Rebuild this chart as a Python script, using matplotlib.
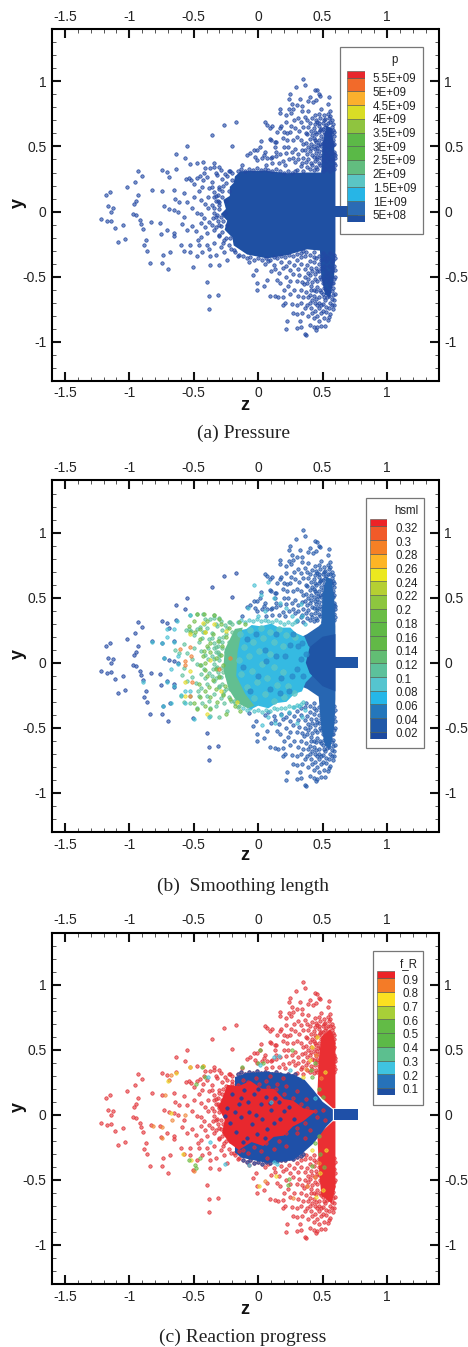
#!/usr/bin/env python3

import matplotlib
matplotlib.use('Agg')
import matplotlib.pyplot as plt
import numpy as np
from matplotlib.patches import Rectangle
from matplotlib.ticker import MultipleLocator, FixedLocator

plt.rcParams['font.family'] = ['Liberation Sans', 'DejaVu Sans']

W, H = 468, 1347

# colour legend contents
p_labels = ['5.5E+09', '5E+09', '4.5E+09', '4E+09', '3.5E+09', '3E+09',
            '2.5E+09', '2E+09', '1.5E+09', '1E+09', '5E+08']
p_colors = ['#e8262c', '#f26a2a', '#fbb02d', '#d9dd25', '#8fc43f', '#5cb947',
            '#5ab947', '#62bd7f', '#5bc5c4', '#27b5e6', '#2b6bb5', '#1f4fa3']
h_labels = ['0.32', '0.3', '0.28', '0.26', '0.24', '0.22', '0.2', '0.18',
            '0.16', '0.14', '0.12', '0.1', '0.08', '0.06', '0.04', '0.02']
h_colors = ['#ec2327', '#f15a29', '#f58025', '#fdb525', '#ece81f', '#b5cf32',
            '#8dc63f', '#6abd45', '#60b946', '#62b947', '#62bd74', '#5cc19b',
            '#55c5cf', '#25b7e8', '#2477bb', '#2059a8', '#1c4aa0']
f_labels = ['0.9', '0.8', '0.7', '0.6', '0.5', '0.4', '0.3', '0.2', '0.1']
f_colors = ['#ec2327', '#f47b27', '#fbe021', '#a8cf38', '#62bb46', '#5cb947',
            '#5cbf8f', '#3fc3e0', '#2672b9', '#1e4fa2']

# particles: (z, y)
far_left = np.array([
    (-1.22, -.06), (-1.18, .13), (-1.15, .15), (-1.165, .04), (-1.127, .03),
    (-1.14, -.005), (-1.17, -.075), (-1.14, -.07), (-1.11, -.125), (-1.05, -.105),
    (-1.085, -.23), (-1.035, -.21), (-1.02, .185), (-.955, .23), (-.935, .31),
    (-.90, .275), (-.935, .125), (-.95, .08), (-.96, .06), (-.975, -.02),
    (-.945, -.025), (-.92, -.065), (-.91, -.095), (-.89, -.135), (-.87, -.22),
    (-.885, -.26), (-.865, -.305), (-.84, -.395), (-.835, -.08), (-.825, .165),
    (-.75, .155), (-.75, .32), (-.73, .04), (-.765, -.085), (-.755, -.17),
    (-.74, -.33), (-.745, -.395), (-.70, -.445), (-.685, -.31), (-.71, -.14),
    (-.655, -.165), (-.655, -.19), (-.69, .02), (-.655, .015), (-.62, 0),
    (-.705, .305), (-.635, .325), (-.695, .265), (-.655, .165), (-.635, .445),
    (-.55, .5), (-.57, .41), (-.36, .585), (-.265, .665), (-.17, .69),
    (-.205, .505), (-.40, -.54), (-.38, -.65), (-.31, -.64), (-.38, -.75),
    (-.505, -.425)])

mid_left = np.array([
    (-.558, .25), (-.53, .365), (-.473, .376), (-.43, .378), (-.344, .37),
    (-.344, .345), (-.37, .337), (-.305, .345), (-.29, .32), (-.416, .333),
    (-.452, .274), (-.52, .243), (-.537, .256), (-.473, .256), (-.395, .268),
    (-.318, .281), (-.357, .23), (-.434, .192), (-.5, .212), (-.576, .146),
    (-.649, .095), (-.615, .077), (-.55, .077), (-.5, .115), (-.447, .09),
    (-.39, .115), (-.344, .153), (-.305, .192), (-.416, .059), (-.357, .051),
    (-.512, .026), (-.473, -.013), (-.421, -.051), (-.382, -.077), (-.344, -.013),
    (-.447, -.09), (-.512, -.11), (-.576, -.038), (-.589, -.095), (-.55, -.14),
    (-.486, -.153), (-.447, -.197), (-.395, -.166), (-.344, -.14), (-.305, -.179),
    (-.266, -.217), (-.344, -.243), (-.4, -.256), (-.46, -.256), (-.525, -.256),
    (-.602, -.256), (-.576, -.3), (-.525, -.307), (-.473, -.345), (-.434, -.307),
    (-.375, -.345), (-.375, -.41), (-.305, -.414), (-.24, -.37), (-.189, -.294),
    (-.266, -.307), (-.15, -.332), (-.31, .13), (-.33, .08), (-.3, .02),
    (-.31, -.07), (-.36, .19), (-.28, .25), (-.26, .29), (-.23, .31),
    (-.42, .30), (-.46, .16), (-.39, .03), (-.44, -.02), (-.36, -.10), (-.41, -.12),
    (-.47, -.22), (-.38, -.29), (-.33, -.33), (-.29, -.27), (-.43, .24), (-.385, .18),
    (-.345, .11), (-.30, .07), (-.325, -.04), (-.285, -.11), (-.28, .16), (-.33, .30)])

wing_top = np.array([
    (.349, 1.02), (.36, .97), (.297, .953), (.442, .934), (.46, .93), (.476, .90),
    (.48, .89), (.25, .90), (.403, .88), (.237, .865), (.324, .868), (.385, .85),
    (.424, .845), (.453, .86), (.553, .877), (.54, .83), (.264, .83), (.305, .816),
    (.34, .81), (.17, .79), (.168, .76), (.238, .785), (.27, .79), (.254, .755),
    (.217, .74), (.337, .775), (.39, .77), (.49, .785), (.56, .775), (.057, .685),
    (.072, .667), (.11, .657), (.095, .64), (.147, .614), (.18, .657), (.22, .69),
    (.255, .657), (.225, .607), (.197, .61), (.023, .543), (.095, .56), (.142, .537),
    (.194, .564), (.225, .55), (.013, .494), (-.03, .473), (-.066, .447), (-.085, .432),
    (.05, .46), (.13, .494), (.135, .46), (.2, .494), (.23, .494), (-.023, .417),
    (-.01, .397), (.03, .41), (.07, .41), (.106, .417), (.14, .43), (-.127, .357),
    (-.008, .473), (.044, .435), (.096, .41), (.1, .55), (.134, .537), (.173, .64),
    (.25, .614), (.28, .70), (.31, .72), (.33, .69), (.36, .73), (.38, .70),
    (.29, .64), (.32, .62), (.35, .65), (.37, .60), (.27, .55), (.30, .57),
    (.33, .55), (.35, .52), (.26, .46), (.29, .48), (.31, .44), (.34, .47),
    (.24, .40), (.27, .41), (.29, .38), (.31, .40), (.34, .37), (.16, .37),
    (.19, .39), (.21, .36), (.06, .36), (.11, .37), (.22, .45), (.17, .44)])

wing_top_dense = np.array([
    (.44, .745), (.47, .752), (.51, .738), (.54, .748), (.56, .735), (.42, .715), (.45, .702),
    (.48, .722), (.52, .708), (.55, .718), (.57, .70), (.40, .682), (.44, .672), (.46, .69),
    (.50, .678), (.53, .665), (.56, .685), (.58, .672), (.39, .648), (.43, .64), (.47, .655),
    (.49, .635), (.52, .648), (.55, .638), (.57, .652), (.41, .622), (.44, .612), (.48, .625),
    (.51, .608), (.54, .62), (.56, .605), (.58, .628), (.38, .592), (.42, .585), (.45, .598),
    (.49, .58), (.52, .592), (.55, .578), (.57, .595), (.59, .582), (.40, .558), (.43, .565),
    (.47, .548), (.50, .56), (.53, .552), (.56, .565), (.58, .55), (.37, .53), (.41, .522),
    (.45, .535), (.48, .518), (.51, .53), (.54, .52), (.57, .535), (.59, .522), (.39, .498),
    (.43, .505), (.46, .49), (.49, .502), (.52, .488), (.55, .498), (.58, .508), (.36, .472),
    (.40, .462), (.44, .478), (.47, .465), (.50, .475), (.53, .46), (.56, .472), (.59, .46),
    (.38, .442), (.42, .432), (.45, .448), (.48, .435), (.52, .445), (.55, .432), (.57, .448),
    (.60, .438), (.35, .412), (.39, .402), (.43, .418), (.46, .405), (.49, .415), (.51, .40),
    (.54, .412), (.58, .402), (.60, .415), (.37, .382), (.41, .372), (.44, .385), (.47, .375),
    (.50, .388), (.53, .372), (.56, .385), (.59, .375), (.33, .35), (.38, .342), (.42, .355),
    (.45, .345), (.48, .358), (.51, .342), (.55, .352), (.57, .34), (.60, .355), (.30, .322),
    (.35, .315), (.40, .328), (.43, .318), (.46, .33), (.50, .315), (.53, .325), (.56, .312),
    (.59, .328), (.47, .612), (.53, .585), (.50, .525), (.44, .55), (.56, .54), (.46, .42),
    (.53, .435), (.41, .485), (.57, .405), (.51, .70), (.475, .68), (.545, .68), (.59, .61),
    (.585, .44), (.505, .635), (.565, .62), (.575, .51), (.525, .515), (.465, .515)])

wing_bot = np.array([
    (.37, -.95), (.36, -.94), (.22, -.90), (.30, -.895), (.33, -.885), (.225, -.84),
    (.325, -.84), (.45, -.91), (.46, -.89), (.40, -.87), (.43, -.885), (.49, -.88),
    (.52, -.88), (.54, -.83), (.27, -.78), (.30, -.785), (.34, -.78), (.39, -.80),
    (.42, -.78), (.46, -.80), (.49, -.78), (.53, -.77), (.56, -.79), (.19, -.72),
    (.21, -.70), (.26, -.71), (.30, -.72), (.33, -.70), (.36, -.74), (.155, -.66),
    (.19, -.655), (.09, -.647), (.134, -.652), (.044, -.575), (-.008, -.6), (.07, -.524),
    (.147, -.524), (.17, -.55), (.20, -.60), (.23, -.57), (.25, -.63), (.28, -.60),
    (.31, -.65), (.33, -.60), (.35, -.66), (.22, -.50), (.25, -.53), (.27, -.48),
    (.30, -.53), (.32, -.49), (.34, -.54), (.10, -.46), (.13, -.44), (.16, -.47),
    (.19, -.43), (.22, -.42), (.25, -.45), (.28, -.41), (.31, -.44), (.05, -.40),
    (.08, -.38), (-.02, -.448), (-.041, -.486), (-.008, -.55), (-.072, -.389),
    (.12, -.41), (.18, -.39), (.24, -.385), (.30, -.37), (.33, -.35)])

wing_bot_dense = np.array([
    (.38, -.72), (.41, -.74), (.44, -.70), (.47, -.74), (.50, -.71), (.53, -.73), (.56, -.70),
    (.59, -.72), (.37, -.62), (.39, -.66), (.41, -.60), (.43, -.65), (.45, -.61), (.47, -.66),
    (.49, -.62), (.51, -.66), (.53, -.60), (.55, -.65), (.57, -.61), (.60, -.63), (.36, -.50),
    (.38, -.55), (.40, -.49), (.42, -.54), (.44, -.48), (.46, -.53), (.48, -.50), (.50, -.55),
    (.52, -.49), (.54, -.54), (.56, -.50), (.58, -.55), (.60, -.50), (.33, -.40), (.36, -.44),
    (.38, -.41), (.41, -.43), (.43, -.39), (.45, -.43), (.47, -.40), (.51, -.42), (.53, -.38),
    (.55, -.42), (.57, -.39), (.59, -.42), (.60, -.36), (.40, -.33), (.43, -.31), (.47, -.34),
    (.36, -.34), (.50, -.32), (.53, -.34), (.56, -.315), (.59, -.33), (.37, -.31), (.45, -.36),
    (.49, -.37), (.55, -.36), (.58, -.375), (.40, -.38), (.42, -.46), (.47, -.46), (.52, -.45),
    (.57, -.46), (.60, -.45), (.39, -.52), (.44, -.52), (.49, -.52), (.54, -.51), (.59, -.52),
    (.41, -.57), (.46, -.58), (.51, -.59), (.56, -.575), (.58, -.59), (.43, -.60), (.48, -.60),
    (.40, -.64), (.45, -.67), (.50, -.63), (.54, -.62), (.58, -.64), (.42, -.68), (.47, -.70),
    (.52, -.68), (.57, -.67), (.59, -.68), (.40, -.70), (.44, -.76), (.50, -.76), (.55, -.74),
    (.58, -.75), (.43, -.82), (.47, -.84), (.51, -.82), (.55, -.81), (.57, -.72), (.49, -.72),
    (.46, -.72), (.535, -.655), (.575, -.55), (.515, -.515), (.455, -.455), (.485, -.43),
    (.545, -.47), (.575, -.43), (.515, -.36), (.435, -.35), (.385, -.47), (.355, -.56)])

# edge of the dense centre: left side, then top and bottom
core_left = np.array([
    (-.30, .05), (-.33, .12), (-.28, .11), (-.27, .20), (-.30, .17), (-.24, .27), (-.22, .31),
    (-.20, .30), (-.25, .22), (-.345, .03), (-.32, -.03), (-.35, -.05), (-.30, -.10),
    (-.33, -.12), (-.28, -.16), (-.30, -.19), (-.25, -.20), (-.27, -.24), (-.23, -.26),
    (-.21, -.29), (-.18, -.31), (-.16, -.34), (-.26, -.01), (-.29, -.04), (-.25, .08),
    (-.23, .16), (-.22, -.20), (-.24, -.10), (-.31, .08), (-.27, -.07), (-.20, .24)])
core_edge = np.array([
    (-.16, .31), (-.13, .325), (-.10, .315), (-.07, .33), (-.04, .32), (-.01, .335), (.02, .32),
    (.05, .33), (.08, .32), (.11, .315), (.14, .325), (.17, .31), (.20, .30), (.23, .315),
    (.26, .30), (.29, .31), (-.12, -.345), (-.09, -.36), (-.06, -.35), (-.03, -.37), (0, -.36),
    (.03, -.375), (.06, -.36), (.09, -.37), (.12, -.35), (.15, -.355), (.18, -.345),
    (.21, -.35), (.24, -.335), (.27, -.34), (.30, -.325), (.33, -.315), (.35, -.30)])

# outlines of the regions too dense to read one by one: (z, y)
core_outline = np.array([
    (-.29, -.02), (-.25, .02), (-.27, .09), (-.22, .12), (-.22, .19), (-.19, .22), (-.18, .27),
    (-.137, .31), (.044, .315), (.225, .295), (.38, .30), (.49, .30), (.50, .52), (.53, .66),
    (.57, .64), (.59, .50), (.60, .30), (.60, -.30), (.59, -.50), (.56, -.66), (.52, -.64),
    (.49, -.50), (.48, -.30), (.38, -.29), (.225, -.335), (.07, -.36), (-.085, -.33),
    (-.19, -.26), (-.20, -.20), (-.26, -.14), (-.24, -.07)])
jet_outline = np.array([(.59, -.043), (.775, -.043), (.775, .043), (.59, .043)])

# smoothing length regions
h_dark = np.array([
    (.28, .17), (.38, .22), (.47, .28), (.49, .30), (.50, .52), (.53, .66), (.57, .64), (.59, .50),
    (.60, .28), (.60, -.28), (.59, -.50), (.56, -.66), (.52, -.64), (.49, -.50), (.47, -.26),
    (.38, -.20), (.28, -.16), (.22, -.08), (.22, .08)])
h_darkest = np.array([
    (.40, .12), (.50, .20), (.60, .22), (.60, -.22), (.50, -.18), (.40, -.08), (.37, 0)])
h_cyan = np.array([
    (-.20, .17), (-.15, .20), (-.14, .25), (-.09, .26), (-.05, .29), (.02, .28), (.10, .30),
    (.16, .27), (.25, .27), (.29, .23), (.36, .20), (.39, .13), (.42, .10), (.40, .04), (.44, 0),
    (.40, -.05), (.42, -.10), (.37, -.15), (.34, -.22), (.28, -.24), (.22, -.30), (.14, -.31),
    (.08, -.35), (.00, -.33), (-.06, -.36), (-.12, -.30), (-.17, -.28), (-.19, -.20), (-.22, -.14),
    (-.20, -.06), (-.24, 0), (-.21, .09)])
h_green = np.array([
    (-.26, .10), (-.18, .26), (-.12, .27), (-.14, .18), (-.16, .08), (-.17, -.10),
    (-.10, -.24), (-.03, -.33), (-.08, -.35), (-.16, -.31), (-.23, -.20), (-.27, -.05)])

h_green_pts = np.array([
    (-.476, .373), (-.424, .373), (-.34, .365), (-.3, .335), (-.5, .317), (-.4, .32),
    (-.54, .284), (-.45, .26), (-.527, .233), (-.49, .24), (-.41, .233), (-.285, .295),
    (-.35, .22), (-.45, .18), (-.40, .13), (-.424, .09), (-.37, .08), (-.43, .055),
    (-.33, .04), (-.41, 0), (-.45, -.02), (-.41, -.055), (-.33, -.05), (-.40, -.10),
    (-.30, -.11), (-.46, -.165), (-.41, -.215), (-.33, -.2), (-.45, -.265), (-.37, -.265),
    (-.27, -.25), (-.476, -.355), (-.37, -.355), (-.41, -.33), (-.25, -.394), (-.5, -.31),
    (-.37, .15), (-.31, .17), (-.29, .06), (-.35, -.13), (-.38, -.19), (-.32, -.30),
    (-.25, .20), (-.23, .27), (-.28, .13), (-.27, -.02), (-.26, -.18), (-.22, -.28),
    (-.18, -.33), (-.14, -.37), (-.10, .30), (-.15, .31)])
h_yellow_pts = np.array([
    (-.43, .305), (-.34, .295), (-.53, .22), (-.41, .233), (-.527, -.06), (-.57, -.145),
    (-.57, -.255), (-.37, .02), (-.29, -.22), (-.25, .246), (-.4, -.394), (-.165, -.3)])
h_orange_pts = np.array([
    (-.52, .05), (-.57, .01), (-.61, .105), (-.53, .12), (-.3, -.05), (-.527, -.255),
    (-.515, -.15), (-.57, -.02), (-.217, .04)])
h_cyan_pts = np.array([
    (-.527, .365), (-.63, .32), (-.705, .26), (-.65, .26), (-.705, .2), (-.65, .16),
    (-.82, .16), (-.75, .155), (-.73, .04), (-.68, -.05), (-.62, .055), (-.625, -.01),
    (-.71, -.145), (-.65, -.18), (-.89, -.145), (-.6, -.25), (-.57, -.31), (-.527, -.215),
    (-.565, -.22), (-.74, -.33), (-.68, -.31), (-.5, -.43), (-.38, -.42), (-.03, .60),
    (.02, .52), (.08, .62), (.12, .50), (.17, .46), (.22, .42), (.26, .36), (.30, .33),
    (.05, .40), (.00, .36), (-.08, .42), (.08, -.42), (.13, -.46), (.18, -.40),
    (.24, -.38), (.28, -.34), (.32, -.33), (.03, -.48), (.34, .36), (.36, .30), (.33, .45),
    (.36, -.36), (.34, -.42), (.30, -.46)])
h_teal_flecks = np.array([
    (-.14, .22), (-.06, .25), (.02, .27), (.09, .24), (.16, .26), (.22, .21), (.29, .20),
    (-.11, .12), (-.04, .16), (.04, .19), (.12, .16), (.19, .13), (-.15, .02), (-.07, .05),
    (.01, .09), (.09, .07), (-.13, -.09), (-.05, -.06), (.03, -.01), (.12, -.03), (.19, -.07),
    (-.09, -.19), (-.01, -.15), (.07, -.12), (.15, -.17), (.23, -.18), (-.03, -.27), (.05, -.24),
    (.12, -.29), (.20, -.26), (.28, -.23)])
h_blue_flecks = np.array([
    (-.09, .18), (.05, .10), (-.02, .22), (.14, .22), (.21, .05), (.25, .14), (-.12, -.03),
    (.00, -.10), (.09, -.20), (.18, -.12), (.26, -.10), (.06, .01), (.14, .05), (-.06, -.22),
    (.17, -.23), (.31, .13), (.33, .03), (.30, -.05), (.35, -.10), (.27, .22), (.24, -.22),
    (.34, .15), (.37, .07)])

# reaction progress regions
f_blue = np.array([
    (-.18, .29), (-.09, .32), (.067, .33), (.27, .31), (.36, .27), (.43, .19),
    (.50, .10), (.58, .04), (.58, -.04), (.53, -.09), (.43, -.22), (.34, -.30),
    (.27, -.35), (.067, -.37), (-.13, -.33), (-.18, -.29)])
f_red = np.array([
    (-.31, .06), (-.28, .12), (-.24, .23), (-.15, .22), (-.06, .26), (.03, .20), (.12, .20),
    (.20, .12), (.27, .11), (.35, .05), (.45, .03), (.35, -.05), (.27, -.09), (.20, -.16),
    (.12, -.17), (.04, -.24), (-.05, -.21), (-.15, -.27), (-.22, -.22), (-.28, -.14), (-.26, -.04)])
f_wing_top = np.array([
    (.46, .16), (.58, .05), (.60, .05), (.60, .56), (.56, .66), (.49, .60), (.47, .40)])
f_wing_bot = np.array([
    (.46, -.16), (.58, -.05), (.60, -.05), (.60, -.56), (.57, -.68), (.49, -.62), (.47, -.38)])

f_red_in_blue = np.array([
    (-.20, .26), (-.12, .27), (-.02, .28), (.06, .26), (.15, .24), (.22, .22), (.30, .18),
    (.37, .12), (.30, -.14), (.36, -.18), (.22, -.24), (.12, -.26), (.02, -.28),
    (-.08, -.29), (-.15, -.28), (.40, -.12), (.19, .28), (.09, .30), (.07, -.33),
    (-.16, .23), (-.08, .25), (.01, .24), (.08, .21), (.14, .20), (.20, .16), (.27, .13),
    (.33, .08), (.38, .05), (.44, .03), (.46, -.02), (.36, -.06), (.30, -.10), (.22, -.14),
    (.16, -.20), (.06, -.22), (-.03, -.25), (-.12, -.27), (.50, .04), (.52, -.04)])
f_blue_in_red = np.array([
    (-.24, .05), (-.20, .16), (-.15, .08), (-.11, .19), (-.08, .10), (-.03, .16), (.02, .08),
    (.06, .14), (.10, .04), (.16, .10), (.20, .03), (-.22, -.06), (-.17, -.13), (-.13, -.02),
    (-.09, -.18), (-.05, -.07), (-.01, -.15), (.03, -.03), (.07, -.11), (.12, -.06),
    (.17, -.03), (-.18, .02), (-.07, .02), (.00, .20), (-.02, .00), (.05, -.18), (-.13, .13),
    (.24, .06), (.09, .09), (-.12, -.21), (.13, .13), (-.26, -.01), (.28, -.03)])
f_yellow_pts = np.array([
    (-.53, .365), (-.43, .378), (-.64, .32), (-.70, .26), (-.68, .013), (.005, -.55),
    (-.585, -.3), (-.52, -.345), (.14, -.47), (.42, -.27), (.45, -.63), (.42, .52),
    (.345, .29), (.53, -.27), (.48, -.45), (.40, .42), (.50, -.58), (.52, .33), (.46, .60)])
f_orange_pts = np.array([
    (-.68, .305), (-.725, .15), (-.745, -.095), (-.815, -.085), (-.75, -.18), (-.665, -.04),
    (-.565, 0), (-.495, -.43), (.05, -.51), (.27, -.64), (.38, -.55), (.37, .35),
    (.44, -.48), (.47, -.37), (.49, .28), (.45, .46)])
f_green_pts = np.array([
    (-.435, .365), (-.48, .235), (-.415, .29), (.016, .5), (-.125, .365), (0, .395),
    (.04, .395), (.26, .5), (.24, -.49), (.23, -.54), (-.49, -.385), (-.48, -.41),
    (-.45, -.335), (-.54, -.35), (.42, .29), (.5, .135), (.42, -.39), (.47, -.16),
    (.44, .40), (.48, -.30), (.47, .20), (.44, -.22), (.51, -.40), (.41, .34)])
f_cyan_pts = np.array([
    (-.26, -.38), (-.07, -.385), (.125, .44), (.165, .455), (.016, .38), (.25, .34),
    (-.39, .29), (-.375, -.21), (.125, -.365), (.15, -.38), (.44, .13), (.10, .10)])

all_pts = np.vstack([far_left, mid_left, wing_top, wing_bot, wing_top_dense, wing_bot_dense,
                     core_left, core_edge])
wing_pts = np.vstack([wing_top, wing_bot, wing_top_dense, wing_bot_dense])


def dots(ax, pts, color, s=6, alpha=.6, zorder=2):
    face = matplotlib.colors.to_rgba(color, alpha)
    ax.scatter(pts[:, 0], pts[:, 1], s=s, facecolor=face, edgecolor=color,
               linewidth=.5, zorder=zorder)


def make_axes(top, caption, ylab_py, xlab_py, cap_py):
    bottom = top + 351.5
    ax = fig.add_axes([52 / W, 1 - bottom / H, 386.5 / W, 351.5 / H])
    ax.set_xlim(-1.6, 1.4)
    ax.set_ylim(-1.3, 1.4)
    for s in ax.spines.values():
        s.set_linewidth(1.5)
    ax.xaxis.set_major_locator(FixedLocator([-1.5, -1, -.5, 0, .5, 1]))
    ax.yaxis.set_major_locator(FixedLocator([-1, -.5, 0, .5, 1]))
    ax.xaxis.set_major_formatter(matplotlib.ticker.FuncFormatter(lambda v, p: '%g' % v))
    ax.yaxis.set_major_formatter(matplotlib.ticker.FuncFormatter(lambda v, p: '%g' % v))
    ax.xaxis.set_minor_locator(MultipleLocator(.1))
    ax.yaxis.set_minor_locator(MultipleLocator(.1))
    ax.tick_params(which='major', direction='in', length=6.5, width=1.5,
                   top=True, right=True, labeltop=True, labelright=True,
                   labelsize=10, pad=4, color='#111111', labelcolor='#222222')
    ax.tick_params(which='minor', direction='in', length=3, width=.7,
                   top=True, right=True, color='#555555')
    fig.text(245 / W, 1 - xlab_py / H, 'z', fontsize=13, fontweight='bold',
             ha='center', va='center', color='#111111')
    fig.text(18 / W, 1 - ylab_py / H, 'y', fontsize=13, fontweight='bold',
             rotation=90, ha='center', va='center', color='#111111')
    fig.text(243 / W, 1 - cap_py / H, caption, fontsize=14,
             family=['Liberation Serif'], ha='center', va='center', color='#222222')
    return ax, top


def legend(ax, top, box, bar, title, title_x, labels, colors, first_py, label_x, step=13.7):
    # box, bar are (x0, y0, x1, y1) in image pixels
    def frac(x, y):
        return (x - 52) / 386.5, 1 - (y - top) / 351.5

    x0, y1 = frac(box[0], box[3])
    x1, y0 = frac(box[2], box[1])
    ax.add_patch(Rectangle((x0, y1), x1 - x0, y0 - y1, transform=ax.transAxes,
                           facecolor='white', edgecolor='#777777', linewidth=.9, zorder=3))
    bx0, by1 = frac(bar[0], bar[3])
    bx1, by0 = frac(bar[2], bar[1])
    cax = ax.inset_axes([bx0, by1, bx1 - bx0, by0 - by1], zorder=5)
    heights = np.ones(len(colors))
    heights[0] = heights[-1] = .52
    lefts = np.concatenate([[0], np.cumsum(heights[::-1])[:-1]])
    cax.bar(np.zeros(len(colors)), heights[::-1], bottom=lefts, width=1,
            color=colors[::-1], edgecolor='#4a5a50', linewidth=.4)
    cax.set_xlim(-.5, .5)
    cax.set_ylim(0, heights.sum())
    cax.axis('off')
    for i, lab in enumerate(labels):
        tx, ty = frac(label_x, first_py + i * step)
        ax.text(tx, ty, lab, transform=ax.transAxes, fontsize=8.3, ha='left',
                va='center', color='#222222', zorder=6)
    tx, ty = frac(title_x, box[1] + 13)
    ax.text(tx, ty, title, transform=ax.transAxes, fontsize=8.3, ha='center',
            va='center', color='#222222', zorder=6)


fig = plt.figure(figsize=(W / 100, H / 100), dpi=100)

# (a) pressure
ax, top = make_axes(29.3, '(a) Pressure', 203, 405, 433)
blue = '#2449a3'
ax.fill(core_outline[:, 0], core_outline[:, 1], color='#1f50a3', lw=0, zorder=2)
dots(ax, all_pts, blue)
ax.fill(jet_outline[:, 0], jet_outline[:, 1], color='#1f50a3', lw=0, zorder=4)
legend(ax, top, (340, 47.3, 423.3, 234), (347, 70.7, 364.7, 221.7), 'p', 394,
       p_labels, p_colors, 79.3, 372.7)

# (b) smoothing length
ax, top = make_axes(480.5, '(b)  Smoothing length', 654, 856, 886)
dots(ax, far_left, blue)
dots(ax, mid_left, '#5cc19b')
dots(ax, wing_pts, '#2458aa')
dots(ax, core_left, '#62bf91')
dots(ax, core_edge, '#4fc3c8')
ax.fill(h_cyan[:, 0], h_cyan[:, 1], color='#35bae2', lw=0, zorder=2.1)
ax.fill(h_green[:, 0], h_green[:, 1], color='#62bf91', lw=0, zorder=2.2)
ax.fill(h_dark[:, 0], h_dark[:, 1], color='#2766b2', lw=0, zorder=2.05)
ax.fill(h_darkest[:, 0], h_darkest[:, 1], color='#1f55a6', lw=0, zorder=2.4)
dots(ax, h_teal_flecks, '#5cc6c8', s=16, alpha=.8, zorder=2.5)
dots(ax, h_blue_flecks, '#2a8ccb', s=14, alpha=.8, zorder=2.5)
dots(ax, h_green_pts, '#74be4a', zorder=3)
dots(ax, h_yellow_pts, '#e8dc2c', zorder=3)
dots(ax, h_orange_pts, '#f0803a', zorder=3)
dots(ax, h_cyan_pts, '#45bfd2', zorder=3)
ax.fill(jet_outline[:, 0], jet_outline[:, 1], color='#1f55a6', lw=0, zorder=4)
legend(ax, top, (365.7, 498.3, 423.7, 748.3), (370.3, 519.3, 387.3, 739), 'hsml', 406,
       h_labels, h_colors, 529, 396)

# (c) reaction progress
ax, top = make_axes(932.5, '(c) Reaction progress', 1107, 1309, 1337)
red = '#e2343a'
dots(ax, all_pts, red)
ax.fill(f_wing_top[:, 0], f_wing_top[:, 1], color='#ea2f33', lw=0, zorder=2.2)
ax.fill(f_wing_bot[:, 0], f_wing_bot[:, 1], color='#ea2f33', lw=0, zorder=2.2)
ax.fill(f_blue[:, 0], f_blue[:, 1], color='#1f50a8', lw=0, zorder=2.5)
dots(ax, core_edge, '#1f50a8', zorder=2.55)
ax.fill(f_red[:, 0], f_red[:, 1], color='#e8282e', lw=0, zorder=2.6)
dots(ax, f_red_in_blue, '#e8282e', zorder=3)
dots(ax, f_blue_in_red, '#24409c', alpha=.9, zorder=3)
dots(ax, f_yellow_pts, '#efdc2e', zorder=3.1)
dots(ax, f_orange_pts, '#f0883a', zorder=3.1)
dots(ax, f_green_pts, '#6cbb45', zorder=3.1)
dots(ax, f_cyan_pts, '#45c0d8', zorder=3.1)
ax.fill(jet_outline[:, 0], jet_outline[:, 1], color='#1f50a8', lw=0, zorder=4)
legend(ax, top, (373.3, 951, 423.3, 1105), (377.3, 971.3, 394.7, 1095), 'f_R', 409,
       f_labels, f_colors, 980.7, 402.7)

plt.savefig('out.png', dpi=100)
